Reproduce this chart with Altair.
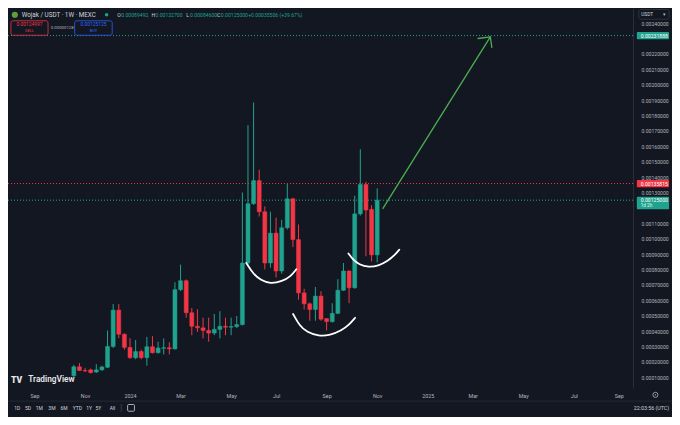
import altair as alt
import pandas as pd

# ---------------- data ----------------
# weekly candles, week 0 = 23 Oct 2023, week 54 = 4 Nov 2024
week = list(range(55))
opens = [0.000110, 0.000168, 0.000144, 0.000148, 0.000134, 0.000148, 0.000165, 0.000300, 0.000536, 0.000379,
         0.000294, 0.000227, 0.000267, 0.000227, 0.000298, 0.000259, 0.000288, 0.000292, 0.000284, 0.000669,
         0.000727, 0.000519, 0.000431, 0.000421, 0.000404, 0.000387, 0.000411, 0.000431, 0.000425, 0.000429,
         0.000442, 0.000842, 0.001227, 0.001377, 0.001175, 0.000842, 0.001036, 0.000790, 0.001071, 0.001259,
         0.000994, 0.000648, 0.000577, 0.000540, 0.000627, 0.000481, 0.000461, 0.000515, 0.000665, 0.000790,
         0.000681, 0.001161, 0.001352, 0.001190, 0.00089492]
highs = [0.000180, 0.000192, 0.000161, 0.000156, 0.000185, 0.000175, 0.000404, 0.000575, 0.000575, 0.000385,
         0.000354, 0.000342, 0.000279, 0.000362, 0.000367, 0.000331, 0.000352, 0.000327, 0.000717, 0.000831,
         0.000735, 0.000550, 0.000542, 0.000487, 0.000487, 0.000511, 0.000529, 0.000487, 0.000487, 0.000498,
         0.001300, 0.001737, 0.001884, 0.001448, 0.001210, 0.001175, 0.001136, 0.001123, 0.001356, 0.001265,
         0.001092, 0.000675, 0.000585, 0.000686, 0.000659, 0.000484, 0.000581, 0.000737, 0.000842, 0.000795,
         0.001279, 0.001581, 0.001369, 0.001217, 0.001327]
lows = [0.000100, 0.000140, 0.000134, 0.000124, 0.000128, 0.000142, 0.000160, 0.000290, 0.000354, 0.000279,
        0.000220, 0.000217, 0.000217, 0.000175, 0.000255, 0.000255, 0.000248, 0.000248, 0.000280, 0.000660,
        0.000487, 0.000373, 0.000394, 0.000352, 0.000331, 0.000373, 0.000352, 0.000373, 0.000373, 0.000420,
        0.000436, 0.000830, 0.001220, 0.001144, 0.000800, 0.000811, 0.000748, 0.000773, 0.001060, 0.000946,
        0.000604, 0.000540, 0.000467, 0.000467, 0.000467, 0.000404, 0.000455, 0.000510, 0.000660, 0.000581,
        0.000675, 0.001150, 0.000886, 0.000852, 0.000846]
closes = [0.000168, 0.000144, 0.000141, 0.000130, 0.000148, 0.000167, 0.000300, 0.000536, 0.000379, 0.000294,
          0.000227, 0.000267, 0.000227, 0.000298, 0.000259, 0.000290, 0.000292, 0.000284, 0.000669, 0.000727,
          0.000519, 0.000431, 0.000421, 0.000404, 0.000387, 0.000411, 0.000431, 0.000425, 0.000429, 0.000442,
          0.000842, 0.001227, 0.001377, 0.001175, 0.000842, 0.001036, 0.000790, 0.001071, 0.001259, 0.000994,
          0.000648, 0.000577, 0.000540, 0.000627, 0.000477, 0.000461, 0.000515, 0.000665, 0.000790, 0.000681,
          0.001161, 0.001352, 0.001186, 0.00089492, 0.00125]

tick_weeks = [-7, 2, 10, 19, 28, 36, 45, 54, 63, 71, 80, 89, 97]
tick_labels = ["Sep", "Nov", "2024", "Mar", "May", "Jul", "Sep", "Nov", "2025", "Mar", "May", "Jul", "Sep"]
price_ticks = [round(0.0001 * i, 4) for i in range(1, 25) if i not in (12, 23)]

level_prices = [0.00231888, 0.00135815, 0.00125]
level_labels = ["0.00231888", "0.00135815", "0.00125000"]
level_kinds = ["target", "high", "last"]

arrow_w = [55.03, 74.14]
arrow_p = [0.0011962, 0.00231]
head_w = [71.96, 74.14, 74.41]
head_p = [0.00230, 0.00231, 0.002242]

curve1_w = [30.7, 31.9, 33.3, 35.0, 37.1, 38.6, 39.6]
curve1_p = [0.000842, 0.000773, 0.000729, 0.000707, 0.000723, 0.000754, 0.000801]
curve2_w = [39.03, 40.15, 41.52, 43.57, 45.62, 47.68, 49.05, 50.07]
curve2_p = [0.000511, 0.000436, 0.000392, 0.000367, 0.000373, 0.000404, 0.000442, 0.000486]
curve3_w = [48.88, 49.74, 50.77, 52.48, 54.18, 55.89, 57.26, 57.94]
curve3_p = [0.000904, 0.000861, 0.000832, 0.000814, 0.000823, 0.000854, 0.000898, 0.000929]

ohlc_letters = ["O", "H", "L", "C"]
ohlc_values = ["0.00089492", "0.00132700", "0.00084600", "0.00125000"]
toolbar = ["1D", "5D", "1M", "3M", "6M", "YTD", "1Y", "5Y", "All"]

# ---------------- styling ----------------
UP, DOWN, BG, TXT, WHITE = "#1fa38f", "#f23645", "#131722", "#b2b5be", "#d1d4dc"
TARGET = "#4caf50"
FONT = "Roboto"
W, H = 625, 380
SX, SY = 664 / 680, 409 / 425


def rx(v):
    return v * SX


def ry(v):
    return v * SY


xs = alt.Scale(domain=[-10.83, 98.65], nice=False, zero=False)
ys = alt.Scale(domain=[0.0000302, 0.0024981], nice=False, zero=False)

candles = pd.DataFrame({"w": week, "open": opens, "high": highs, "low": lows, "close": closes})
candles["dir"] = ["up" if c >= o else "down" for o, c in zip(opens, closes)]
dir_color = alt.Color("dir:N", scale=alt.Scale(domain=["up", "down"], range=[UP, DOWN]), legend=None)

label_expr = " : ".join(f"datum.value == {w} ? '{l}'" for w, l in zip(tick_weeks, tick_labels)) + " : ''"

x_axis = alt.Axis(values=tick_weeks, labelExpr=label_expr, grid=False, ticks=False, tickSize=0,
                  domain=False, labelColor=TXT, labelFontSize=5.4, labelFont=FONT, labelPadding=7,
                  labelBaseline="middle", labelOverlap=False, labelFlush=False, title=None)
y_axis = alt.Axis(orient="right", values=price_ticks, format=".8f", grid=False, ticks=False, tickSize=0,
                  domain=True, domainColor="#2a2e39", labelColor=TXT, labelFontSize=5.1, labelFont=FONT,
                  labelPadding=8, labelAlign="left", labelBaseline="middle", labelOverlap=False,
                  labelFlush=False, title=None)


def X(field):
    return alt.X(field, scale=xs, axis=x_axis)


def Y(field):
    return alt.Y(field, scale=ys, axis=y_axis)


levels = pd.DataFrame({"p": level_prices, "lab": level_labels, "k": level_kinds})
kind_color = alt.Color("k:N", scale=alt.Scale(domain=["target", "high", "last"], range=[TARGET, DOWN, UP]),
                       legend=None)

wicks = alt.Chart(candles).mark_rule(strokeWidth=1).encode(
    x=X("w:Q"), y=Y("low:Q"), y2="high:Q", color=dir_color)

hlines = alt.Chart(levels).mark_rule(strokeDash=[1, 2], strokeWidth=1).encode(
    y=Y("p:Q"), color=kind_color)

bodies = alt.Chart(candles).mark_bar(orient="vertical", size=4, strokeWidth=0.5).encode(
    x=X("w:Q"), y=Y("open:Q"), y2="close:Q", color=dir_color, stroke=dir_color)

curves = pd.concat([
    pd.DataFrame({"w": curve1_w, "p": curve1_p, "g": "a"}),
    pd.DataFrame({"w": curve2_w, "p": curve2_p, "g": "b"}),
    pd.DataFrame({"w": curve3_w, "p": curve3_p, "g": "c"}),
])
curve_layer = alt.Chart(curves).mark_line(color="#ffffff", strokeWidth=1.8, interpolate="basis",
                                          strokeCap="round").encode(
    x=X("w:Q"), y=Y("p:Q"), detail="g:N")

arrow = pd.concat([
    pd.DataFrame({"w": arrow_w, "p": arrow_p, "g": "shaft", "o": [0, 1]}),
    pd.DataFrame({"w": head_w, "p": head_p, "g": "head", "o": [0, 1, 2]}),
])
arrow_layer = alt.Chart(arrow).mark_line(color=TARGET, strokeWidth=1.3, strokeCap="round",
                                         strokeJoin="round").encode(
    x=X("w:Q"), y=Y("p:Q"), detail="g:N", order="o:Q")

tag_x1, tag_x2 = rx(644), rx(677)
tags_small = alt.Chart(levels[levels.k != "last"]).mark_rect(yOffset=-3.6, y2Offset=3.6, cornerRadius=1).encode(
    x=alt.value(tag_x1), x2=alt.value(tag_x2), y=Y("p:Q"), y2="p:Q", color=kind_color)
tag_last = alt.Chart(levels[levels.k == "last"]).mark_rect(yOffset=-3.4, y2Offset=9, cornerRadius=1).encode(
    x=alt.value(tag_x1), x2=alt.value(tag_x2), y=Y("p:Q"), y2="p:Q", color=kind_color)
tag_text = alt.Chart(levels).mark_text(align="left", baseline="middle", fontSize=5.1, font=FONT,
                                       color="#ffffff").encode(
    x=alt.value(rx(648)), y=Y("p:Q"), text="lab:N")
tag_sub = alt.Chart(levels[levels.k == "last"].assign(sub="1d 2h")).mark_text(
    align="left", baseline="middle", fontSize=4.6, font=FONT, color="#e8f5f2", dy=5.6).encode(
    x=alt.value(rx(648)), y=Y("p:Q"), text="sub:N")


def label(t, x, y, color, size, align="left", weight="normal", baseline="middle"):
    return alt.Chart(pd.DataFrame({"t": [t]})).mark_text(
        align=align, baseline=baseline, fontSize=size, fontWeight=weight, font=FONT, color=color).encode(
        x=alt.value(x), y=alt.value(y), text="t:N")


def box(x1, y1, x2, y2, stroke, fill=BG, width=0.8, radius=2):
    return alt.Chart(pd.DataFrame({"a": [0]})).mark_rect(
        stroke=stroke, fill=fill, strokeWidth=width, cornerRadius=radius).encode(
        x=alt.value(x1), x2=alt.value(x2), y=alt.value(y1), y2=alt.value(y2))


def dot(x, y, color, size, filled=True):
    return alt.Chart(pd.DataFrame({"a": [0]})).mark_point(
        shape="circle", filled=filled, color=color, size=size, strokeWidth=0.8, opacity=1).encode(
        x=alt.value(x), y=alt.value(y))


chrome = []
# header row 1
chrome.append(dot(rx(7), ry(7), "#5f9e3c", 38))
chrome.append(label("Wojak / USDT · 1W · MEXC", rx(14), ry(7), WHITE, 6.3))
chrome.append(dot(rx(101), ry(7), UP, 12))
ohlc_x = [112, 147, 182.5, 214]
for let, val, xx in zip(ohlc_letters, ohlc_values, ohlc_x):
    chrome.append(label(let, rx(xx), ry(7), WHITE, 5.1))
    chrome.append(label(val, rx(xx + 4), ry(7), UP, 5.1))
chrome.append(label("+0.00035506", rx(246), ry(7), UP, 5.1))
chrome.append(label("(+39.67%)", rx(278), ry(7), UP, 5.1))
# header row 2: sell / spread / buy
chrome.append(box(rx(3), ry(13.3), rx(41), ry(28.3), DOWN))
chrome.append(label("0.00124997", rx(22), ry(18), DOWN, 4.9, align="center"))
chrome.append(label("SELL", rx(22), ry(24.3), DOWN, 3.9, align="center"))
chrome.append(label("0.00000128", rx(55.5), ry(20.5), TXT, 4.3, align="center"))
chrome.append(box(rx(68.3), ry(13.3), rx(106.7), ry(28.3), "#2962ff"))
chrome.append(label("0.00125125", rx(87.5), ry(18), "#2f6bff", 4.9, align="center"))
chrome.append(label("BUY", rx(87.5), ry(24.3), "#2f6bff", 3.9, align="center"))
# top-right currency selector
chrome.append(box(rx(646), ry(1.5), rx(677), ry(11.7), "#363a45", width=0.8))
chrome.append(label("USDT", rx(648.5), ry(6.8), WHITE, 4.8))
chrome.append(label("▾", rx(672.5), ry(6.8), TXT, 4.5, align="center"))
# TradingView watermark
chrome.append(label("TV", rx(3), ry(387), "#e8e8e8", 8.6, weight=900))
chrome.append(label("TradingView", rx(20.7), ry(387), "#e8e8e8", 8.3, weight=600))
# separator between time axis and toolbar
chrome.append(alt.Chart(pd.DataFrame({"a": [0]})).mark_rule(color="#2a2e39", strokeWidth=0.8).encode(
    x=alt.value(0), x2=alt.value(664), y=alt.value(ry(408.5))))
# gear icon on time axis
chrome.append(dot(rx(663), ry(402), TXT, 26, filled=False))
chrome.append(dot(rx(663), ry(402), TXT, 2))
# toolbar
tool_x = [9.5, 20.5, 32, 45, 57.5, 71, 83, 92.5, 107]
for t, xx in zip(toolbar, tool_x):
    chrome.append(label(t, rx(xx), ry(415.5), WHITE, 5.0, align="center"))
chrome.append(alt.Chart(pd.DataFrame({"a": [0]})).mark_rule(color="#434651", strokeWidth=0.8).encode(
    x=alt.value(rx(116)), y=alt.value(ry(411.5)), y2=alt.value(ry(419.5))))
chrome.append(box(rx(122.5), ry(412), rx(129.5), ry(419), WHITE, width=0.8, radius=1))
chrome.append(label("22:03:56 (UTC)", rx(677), ry(415.5), WHITE, 5.3, align="right"))

layers = [wicks, hlines, bodies, curve_layer, arrow_layer, tags_small, tag_last, tag_text, tag_sub] + chrome

chart = alt.layer(*layers).properties(
    width=W, height=H, background=BG,
    padding={"left": 0, "top": 0, "right": 39, "bottom": 29},
    autosize=alt.AutoSizeParams(type="none"),
).configure_view(stroke=None)

chart.save("out.html", embed_options={"renderer": "svg", "actions": False})
